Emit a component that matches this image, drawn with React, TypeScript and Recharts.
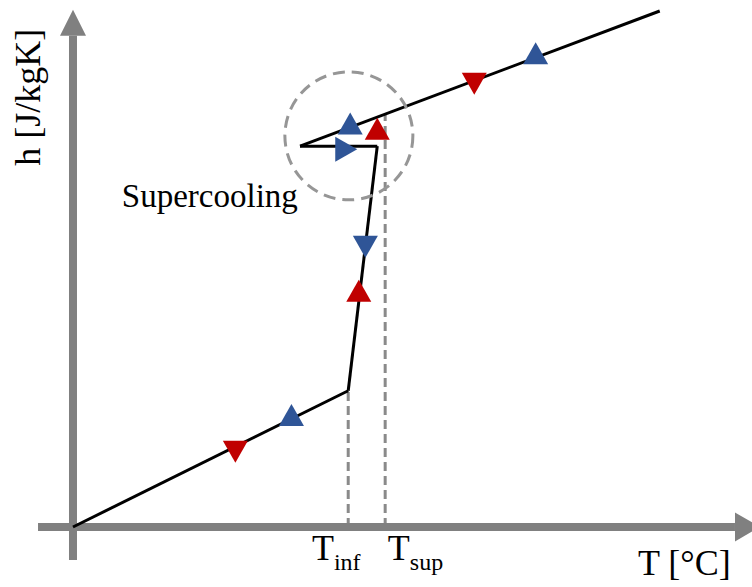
import React from 'react';
import {
  ComposedChart,
  XAxis,
  YAxis,
  Line,
  Scatter,
  ReferenceLine,
  ReferenceDot,
} from 'recharts';

const W = 752;
const H = 587;

// Schematic temperature (T) – enthalpy (h) path, arbitrary units
const solidBranch = [
  { T: 0, h: 0 },
  { T: 41.7, h: 26.4 },
];
const meltingBranch = [
  { T: 41.7, h: 26.4 },
  { T: 46.1, h: 73.8 },
];
const supercoolingStep = [
  { T: 34.4, h: 73.8 },
  { T: 46.1, h: 73.8 },
];
const liquidBranch = [
  { T: 34.4, h: 73.8 },
  { T: 88.9, h: 100 },
];

// Phase-change limits
const T_INF = 41.7;
const H_INF = 26.4;
const T_SUP = 47.3;
const H_SUP = 80.0;

// Direction markers along the path
const redMarkers = [
  { T: 24.6, h: 14.6, dir: 'down' },
  { T: 60.8, h: 85.9, dir: 'down' },
  { T: 43.3, h: 45.8, dir: 'up' },
  { T: 46.1, h: 77.2, dir: 'up' },
];
const blueMarkers = [
  { T: 33.1, h: 21.7, dir: 'up' },
  { T: 70.1, h: 91.8, dir: 'up' },
  { T: 44.3, h: 54.3, dir: 'down' },
  { T: 42.0, h: 78.2, dir: 'up' },
  { T: 41.4, h: 73.2, dir: 'right' },
];

// Supercooling highlight
const circleCenter = { T: 41.8, h: 75.8 };

// Axis extents
const xAxisStart = -5.3;
const xAxisEnd = 100.3;
const yAxisStart = -6.4;
const yAxisEnd = 95.2;

// Plot domains (the whole canvas is the plotting area)
const xDomain: [number, number] = [-11.06, 102.88];
const yDomain: [number, number] = [-11.63, 102.13];

const RED = '#c00000';
const BLUE = '#2f5597';
const AXIS_GRAY = '#808080';
const DASH_GRAY = '#8a8a8a';
const FONT = "'Liberation Serif', 'Times New Roman', serif";

const Triangle = (props: any) => {
  const { cx, cy, fill } = props;
  const dir = props.dir ?? props.payload?.dir;
  const w = 25;
  const hh = 22;
  let pts = '';
  if (dir === 'up') {
    pts = `${cx},${cy - hh / 2} ${cx + w / 2},${cy + hh / 2} ${cx - w / 2},${cy + hh / 2}`;
  } else if (dir === 'down') {
    pts = `${cx - w / 2},${cy - hh / 2} ${cx + w / 2},${cy - hh / 2} ${cx},${cy + hh / 2}`;
  } else {
    pts = `${cx - hh / 2},${cy - w / 2} ${cx + hh / 2},${cy} ${cx - hh / 2},${cy + w / 2}`;
  }
  return <polygon points={pts} fill={fill} />;
};

const ArrowRight = (props: any) => {
  const { cx, cy } = props;
  return (
    <polygon
      points={`${cx},${cy - 14.5} ${cx + 25},${cy} ${cx},${cy + 14.5}`}
      fill={AXIS_GRAY}
    />
  );
};

const ArrowUp = (props: any) => {
  const { cx, cy } = props;
  return (
    <polygon
      points={`${cx - 13},${cy} ${cx},${cy - 26} ${cx + 13},${cy}`}
      fill={AXIS_GRAY}
    />
  );
};

const textShape =
  (content: string, size = 36, anchor = 'start', rotate = false) =>
  (props: any) => {
    const { cx, cy } = props;
    return (
      <text
        x={cx}
        y={cy}
        fill="#000"
        textAnchor={anchor}
        style={{ fontFamily: FONT, fontSize: size }}
        transform={rotate ? `rotate(-90, ${cx}, ${cy})` : undefined}
      >
        {content}
      </text>
    );
  };

const SubLabel = (main: string, sub: string) => (props: any) => {
  const { cx, cy } = props;
  return (
    <text x={cx} y={cy} fill="#000" style={{ fontFamily: FONT, fontSize: 36 }}>
      {main}
      <tspan dy={10} style={{ fontSize: 24 }}>
        {sub}
      </tspan>
    </text>
  );
};

const pathLine = (data: { T: number; h: number }[], key: string) => (
  <Line
    key={key}
    data={data}
    dataKey="h"
    stroke="#000"
    strokeWidth={3}
    dot={false}
    activeDot={false}
    isAnimationActive={false}
    type="linear"
  />
);

export default function App() {
  return (
    <div
      style={{
        position: 'absolute',
        left: 0,
        top: 0,
        width: W,
        height: H,
        background: '#fff',
      }}
    >
      <ComposedChart
        width={W}
        height={H}
        margin={{ top: 0, right: 0, bottom: 0, left: 0 }}
      >
        <XAxis type="number" dataKey="T" domain={xDomain} hide allowDataOverflow />
        <YAxis type="number" dataKey="h" domain={yDomain} hide allowDataOverflow />

        {/* phase-change temperature guides */}
        <ReferenceLine
          segment={[
            { x: T_INF, y: 0 },
            { x: T_INF, y: H_INF },
          ]}
          stroke={DASH_GRAY}
          strokeWidth={3}
          strokeDasharray="9 5"
          ifOverflow="visible"
        />
        <ReferenceLine
          segment={[
            { x: T_SUP, y: 0 },
            { x: T_SUP, y: H_SUP },
          ]}
          stroke={DASH_GRAY}
          strokeWidth={3}
          strokeDasharray="9 5"
          ifOverflow="visible"
        />

        {/* supercooling circle */}
        <ReferenceDot
          x={circleCenter.T}
          y={circleCenter.h}
          r={64}
          fill="none"
          stroke="#969696"
          strokeWidth={3}
          strokeDasharray="12 7"
          ifOverflow="visible"
        />

        {/* axes */}
        <ReferenceLine
          segment={[
            { x: xAxisStart, y: 0 },
            { x: xAxisEnd, y: 0 },
          ]}
          stroke={AXIS_GRAY}
          strokeWidth={8}
          ifOverflow="visible"
        />
        <ReferenceLine
          segment={[
            { x: 0, y: yAxisStart },
            { x: 0, y: yAxisEnd },
          ]}
          stroke={AXIS_GRAY}
          strokeWidth={8}
          ifOverflow="visible"
        />
        <ReferenceDot x={xAxisEnd} y={0} r={1} ifOverflow="visible" shape={ArrowRight} />
        <ReferenceDot x={0} y={yAxisEnd} r={1} ifOverflow="visible" shape={ArrowUp} />

        {/* path */}
        {pathLine(solidBranch, 'solid')}
        {pathLine(meltingBranch, 'melting')}
        {pathLine(supercoolingStep, 'supercooling')}
        {pathLine(liquidBranch, 'liquid')}

        {/* direction markers */}
        <Scatter data={redMarkers} fill={RED} shape={Triangle} isAnimationActive={false} />
        <Scatter data={blueMarkers} fill={BLUE} shape={Triangle} isAnimationActive={false} />

        {/* labels */}
        <ReferenceDot
          x={7.4}
          y={62.0}
          r={1}
          ifOverflow="visible"
          shape={textShape('Supercooling', 33)}
        />
        <ReferenceDot
          x={85.6}
          y={-9.3}
          r={1}
          ifOverflow="visible"
          shape={textShape('T [°C]')}
        />
        <ReferenceDot
          x={-5.0}
          y={83.3}
          r={1}
          ifOverflow="visible"
          shape={textShape('h [J/kgK]', 36, 'middle', true)}
        />
        <ReferenceDot x={36.2} y={-6.4} r={1} ifOverflow="visible" shape={SubLabel('T', 'inf')} />
        <ReferenceDot x={47.7} y={-6.4} r={1} ifOverflow="visible" shape={SubLabel('T', 'sup')} />
      </ComposedChart>
    </div>
  );
}
